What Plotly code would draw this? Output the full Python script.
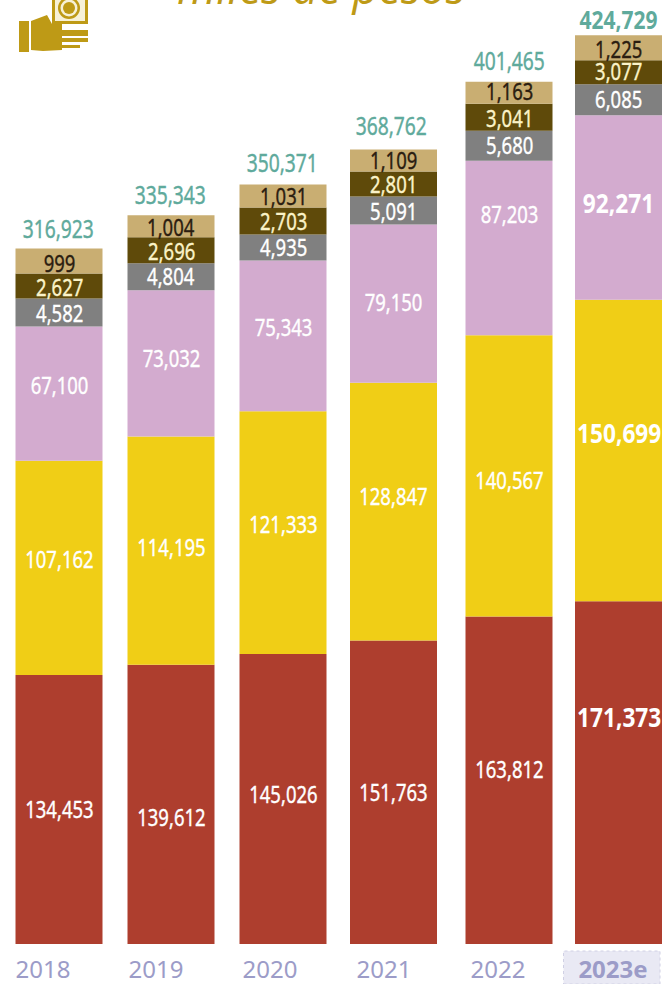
import plotly.graph_objects as go

years = ["2018", "2019", "2020", "2021", "2022", "<b>2023e</b>"]
totals = ["316,923", "335,343", "350,371", "368,762", "401,465", "<b>424,729</b>"]
red = [134453, 139612, 145026, 151763, 163812, 171373]
yellow = [107162, 114195, 121333, 128847, 140567, 150699]
lilac = [67100, 73032, 75343, 79150, 87203, 92271]
grey = [4582, 4804, 4935, 5091, 5680, 6085]
brown = [2627, 2696, 2703, 2801, 3041, 3077]
tan = [999, 1004, 1031, 1109, 1163, 1225]

# the three thin bands are drawn far taller than scale in the original: drawn sizes, in value units
grey_drawn = [14000, 13500, 13000, 14000, 15000, 15500]
brown_drawn = [12500, 13000, 13500, 12500, 13500, 12000]
tan_drawn = [12500, 11000, 11500, 11000, 11000, 12500]

PX = 500  # value units per pixel
BASE = 944
bar_x = [59, 171, 283, 393.5, 509, 618.5]
total_x = [58, 170, 282, 391, 509, 618]
total_shift = [21, 21, 23, 24, 22, 16]
tick_x = [43, 156, 270, 384, 498, 613]
BAR_W = 87

series = [
    ("Rojo", red, red, "#AE3E2E", "white", [1, -12, 5, 1, 12, 56]),
    ("Amarillo", yellow, yellow, "#F0CE16", "white", [9, 4, 9, 16, -4, 18]),
    ("Lila", lilac, lilac, "#D3ABCF", "white", [9, 6, 9, 2, 35, 5]),
    ("Gris", grey, grey_drawn, "#808080", "white", [0, 1, 1, 0, 1, 1]),
    ("Café", brown, brown_drawn, "#5F4A0A", "#FBF3C8", [0, 0, 1, 0, 0, 2]),
    ("Arena", tan, tan_drawn, "#C9AE72", "#2B1D10", [-1, 0, 1, 1, 2, -1]),
]

FONT = "Noto Sans"
fig = go.Figure()
annotations = []
cum = [0] * 6
for name, vals, drawn, col, tcol, shifts in series:
    fig.add_trace(go.Bar(x=bar_x, y=drawn, base=cum, width=BAR_W, name=name,
                         marker=dict(color=col, line=dict(width=0)),
                         hoverinfo="skip"))
    for i, v in enumerate(vals):
        txt = f"{v:,}"
        big = i == 5 and name in ("Rojo", "Amarillo", "Lila")
        annotations.append(dict(
            x=bar_x[i], y=cum[i] + drawn[i] / 2, xref="x", yref="y",
            text=f"<b>{txt}</b>" if big else txt, showarrow=False, yshift=shifts[i],
            font=dict(family=FONT, size=27 if big else 24, color=tcol)))
    cum = [c + d for c, d in zip(cum, drawn)]

for i, t in enumerate(totals):
    annotations.append(dict(x=total_x[i], y=cum[i], xref="x", yref="y", text=t, showarrow=False,
                            yanchor="middle", yshift=total_shift[i],
                            font=dict(family=FONT, size=25, color="#5FAA9C")))

annotations.append(dict(x=321, y=1.0, xref="x", yref="paper", text="<i>miles de pesos</i>",
                        showarrow=False, yanchor="middle", yshift=14,
                        font=dict(family="Open Sans", size=45, color="#BE9A16")))


def py(p):
    return (BASE - p) / BASE


gold = "#BE9A16"
pale = "#F7F1D6"


def box(x0, x1, p0, p1, fill):
    return dict(type="rect", xref="x", yref="paper", x0=x0, x1=x1, y0=py(p1), y1=py(p0),
                fillcolor=fill, line=dict(width=0))


def circle(cx, cy, r, fill):
    return dict(type="circle", xref="x", yref="paper", x0=cx - r, x1=cx + r,
                y0=py(cy + r), y1=py(cy - r), fillcolor=fill, line=dict(width=0))


palm = [(31, 21), (47, 15), (52, 24), (62, 24), (62, 50), (43, 51), (31, 50)]
palm_path = "M " + " L ".join(f"{x},{py(y)}" for x, y in palm) + " Z"
shapes = [
    dict(type="rect", xref="x", yref="paper", x0=563.5, x1=660, y0=py(984), y1=py(951),
         fillcolor="#E9E9F4", line=dict(color="#D0D0E4", width=1, dash="dot"), layer="below"),
    box(52, 88, 0, 24, gold), box(55, 85, 0, 21, pale),
    circle(69, 8, 11, gold), circle(69, 8, 8.5, pale), circle(69, 8, 6, gold),
    box(19, 29, 21, 52, gold),
    dict(type="path", xref="x", yref="paper", path=palm_path, fillcolor=gold, line=dict(width=0)),
    box(60, 88, 30, 36, gold), box(60, 88, 38, 42, gold), box(60, 80, 45, 48, gold),
]
fig.update_layout(
    width=664, height=984, margin=dict(l=0, r=0, t=0, b=40, pad=0), autosize=False,
    paper_bgcolor="white", plot_bgcolor="white", barmode="overlay", showlegend=False,
    xaxis=dict(range=[0, 664], tickmode="array", tickvals=tick_x, ticktext=years,
               tickfont=dict(family=FONT, size=24, color="#9C9CC8"),
               showgrid=False, zeroline=False, showline=False, ticks="outside", ticklen=4,
               tickcolor="rgba(0,0,0,0)"),
    yaxis=dict(range=[0, BASE * PX], visible=False),
    annotations=annotations, shapes=shapes,
)
post = """
document.body.style.margin = '0';
document.querySelectorAll('.annotation-text').forEach(function (t) {
  if (t.textContent.indexOf('miles') >= 0) return;
  var bold = t.querySelector('tspan[style*="bold"]') !== null || t.innerHTML.indexOf('bold') >= 0;
  var k = bold ? 0.84 : 0.77;
  var cx = parseFloat(t.getAttribute('x'));
  t.setAttribute('transform', 'translate(' + cx + ',0) scale(' + k + ',1) translate(' + (-cx) + ',0)');
  if (!bold) { t.style.stroke = t.style.fill; t.style.strokeWidth = '0.4px'; }
});
"""
fig.write_html("out.html", post_script=post, config={"displayModeBar": False})
